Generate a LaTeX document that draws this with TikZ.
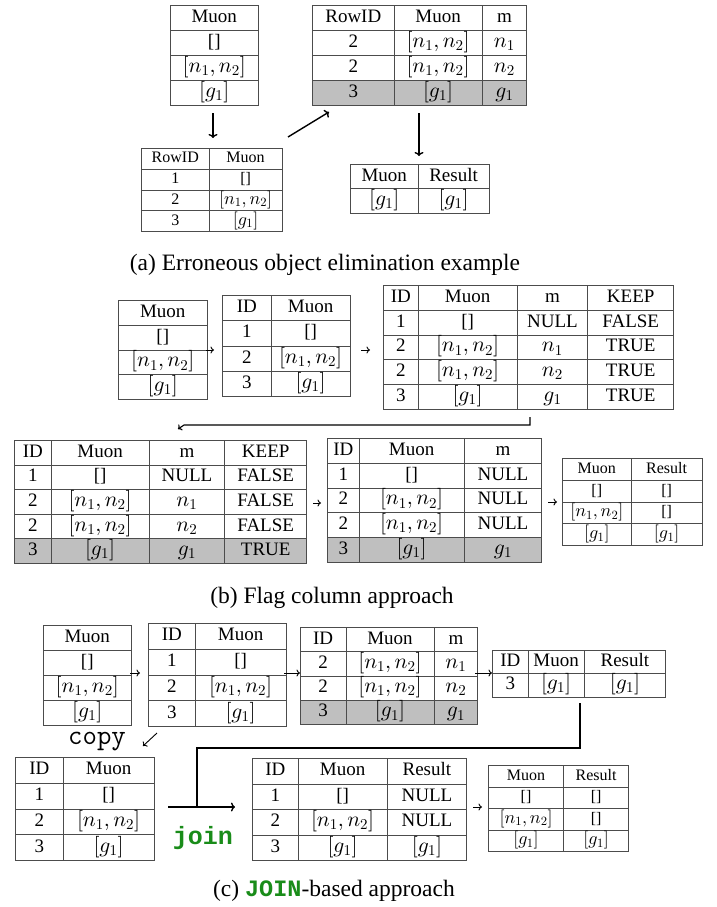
\documentclass[tikz,border=0pt]{standalone}
\usepackage[no-math]{fontspec}
\setmainfont{Liberation Serif}
\newfontfamily\boldmono{Liberation Mono}
\DeclareFontShape{OML}{cmm}{m}{it}{<->cmmi10}{}
\DeclareFontShape{OT1}{cmr}{m}{n}{<-8.5>cmr7 <8.5->cmr10}{}
\DeclareMathSizes{19}{21.5}{15}{11}
\DeclareMathSizes{16}{18}{12.6}{9}
\usetikzlibrary{matrix,arrows.meta,calc}
\definecolor{tline}{gray}{0.3}
\definecolor{cellgray}{gray}{0.75}
\definecolor{joingreen}{rgb}{0.1,0.55,0.1}
\newcommand\tabfont{\fontsize{19}{22}\selectfont}
\newcommand\smallfont{\fontsize{16}{19}\selectfont}
\newcommand\capfont{\fontsize{23.5}{28}\selectfont}
\tikzset{
  tbl/.style={matrix of nodes, anchor=north west, inner sep=0pt, outer sep=0pt,
    row sep=-0.8pt, column sep=-0.8pt,
    nodes={draw=tline, line width=0.8pt, inner sep=0pt, outer sep=0pt, anchor=center,
      font=\tabfont, text height=14pt, text depth=5pt}},
  smalltbl/.style={tbl, nodes={font=\smallfont, text height=12pt, text depth=4.2pt}},
  rowh/.style={nodes={minimum height=#1}},
  colw/.style 2 args={column #1/.style={nodes={minimum width=#2}}},
  grayrow/.style={row #1/.style={nodes={fill=cellgray}}},
  bigarr/.style={line width=1.4pt, -{To[length=4pt,width=9pt]}},
  smallarr/.style={line width=0.9pt, -{To[length=3.5pt,width=7pt]}},
  connline/.style={line width=1.4pt},
  lbl/.style={inner sep=0pt},
}
\begin{document}
\begin{tikzpicture}[x=1pt,y=-1pt]
\fill[white] (0,0) rectangle (716,907);
\useasboundingbox (0,0) rectangle (716,907);

% ---------------- (a)
\matrix (A1) [tbl, rowh=25.05pt, colw={1}{87.8pt}] at (170,5)
{Muon\\ {[]}\\ $[n_1,n_2]$\\ $[g_1]$\\};
\matrix (A2) [tbl, rowh=25.05pt, colw={1}{81.8pt}, colw={2}{87.8pt}, colw={3}{44.8pt}, grayrow=4] at (312,5)
{RowID & Muon & m\\
 2 & $[n_1,n_2]$ & $n_1$\\
 2 & $[n_1,n_2]$ & $n_2$\\
 3 & $[g_1]$ & $g_1$\\};
\matrix (A3) [smalltbl, rowh=20.8pt, colw={1}{67.8pt}, colw={2}{72.8pt}] at (141,148)
{RowID & Muon\\
 1 & {[]}\\
 2 & $[n_1,n_2]$\\
 3 & $[g_1]$\\};
\matrix (A4) [tbl, rowh=24.3pt, colw={1}{67.8pt}, colw={2}{70.8pt}] at (350,164)
{Muon & Result\\
 $[g_1]$ & $[g_1]$\\};

\coordinate (a1s) at (213,113); \coordinate (a3n) at (213,138);
\draw[bigarr] (a1s) -- (a3n);
\coordinate (a3e) at (288,137); \coordinate (a2w) at (329,112);
\draw[bigarr] (a3e) -- (a2w);
\coordinate (a2s) at (419,113); \coordinate (a4n) at (419,156);
\draw[bigarr] (a2s) -- (a4n);

\node (capA) [lbl, font=\capfont] at (325,265) {(a) Erroneous object elimination example};

% ---------------- (b)
\matrix (B1) [tbl, rowh=24.8pt, colw={1}{88.8pt}] at (118,300)
{Muon\\ {[]}\\ $[n_1,n_2]$\\ $[g_1]$\\};
\matrix (B2) [tbl, rowh=25.3pt, colw={1}{48.8pt}, colw={2}{78.8pt}] at (222,295)
{ID & Muon\\
 1 & {[]}\\
 2 & $[n_1,n_2]$\\
 3 & $[g_1]$\\};
\matrix (B3) [tbl, rowh=24.8pt, colw={1}{34.8pt}, colw={2}{98.8pt}, colw={3}{70.8pt}, colw={4}{85.8pt}] at (383,285)
{ID & Muon & m & KEEP\\
 1 & {[]} & NULL & FALSE\\
 2 & $[n_1,n_2]$ & $n_1$ & TRUE\\
 2 & $[n_1,n_2]$ & $n_2$ & TRUE\\
 3 & $[g_1]$ & $g_1$ & TRUE\\};
\matrix (B4) [tbl, rowh=24.6pt, colw={1}{36.8pt}, colw={2}{97.8pt}, colw={3}{75.8pt}, colw={4}{81.8pt}, grayrow=5] at (14,440)
{ID & Muon & m & KEEP\\
 1 & {[]} & NULL & FALSE\\
 2 & $[n_1,n_2]$ & $n_1$ & FALSE\\
 2 & $[n_1,n_2]$ & $n_2$ & FALSE\\
 3 & $[g_1]$ & $g_1$ & TRUE\\};
\matrix (B5) [tbl, rowh=24.8pt, colw={1}{31.8pt}, colw={2}{104.8pt}, colw={3}{77.8pt}, grayrow=5] at (327,438)
{ID & Muon & m\\
 1 & {[]} & NULL\\
 2 & $[n_1,n_2]$ & NULL\\
 2 & $[n_1,n_2]$ & NULL\\
 3 & $[g_1]$ & $g_1$\\};
\matrix (B6) [smalltbl, rowh=21.8pt, colw={1}{68.8pt}, colw={2}{70.8pt}] at (562,458)
{Muon & Result\\
 {[]} & {[]}\\
 $[n_1,n_2]$ & {[]}\\
 $[g_1]$ & $[g_1]$\\};

\coordinate (b1e) at (206,350); \coordinate (b2w) at (214,350);
\draw[smallarr] (b1e) -- (b2w);
\coordinate (b2e) at (361,350); \coordinate (b3w) at (370,350);
\draw[smallarr] (b2e) -- (b3w);
\coordinate (b3s) at (530,417); \coordinate (b34a) at (530,425);
\coordinate (b34b) at (184,425); \coordinate (b4n) at (178,429);
\draw[line width=1.1pt, -{To[length=3.5pt,width=7pt]}] (b3s) -- (b34a) -- (b34b) -- (b4n);
\coordinate (b4e) at (313,503); \coordinate (b5w) at (321,503);
\draw[smallarr] (b4e) -- (b5w);
\coordinate (b5e) at (548,502); \coordinate (b6w) at (557,502);
\draw[smallarr] (b5e) -- (b6w);

\node (capB) [lbl, font=\capfont] at (332,598) {(b) Flag column approach};

% ---------------- (c)
\matrix (C1) [tbl, rowh=25.05pt, colw={1}{87.8pt}] at (43,625)
{Muon\\ {[]}\\ $[n_1,n_2]$\\ $[g_1]$\\};
\matrix (C2) [tbl, rowh=25.8pt, colw={1}{46.8pt}, colw={2}{90.8pt}] at (148,623)
{ID & Muon\\
 1 & {[]}\\
 2 & $[n_1,n_2]$\\
 3 & $[g_1]$\\};
\matrix (C3) [tbl, rowh=24.3pt, colw={1}{45.5pt}, colw={2}{88.1pt}, colw={3}{43.8pt}, grayrow=4] at (300,627)
{ID & Muon & m\\
 2 & $[n_1,n_2]$ & $n_1$\\
 2 & $[n_1,n_2]$ & $n_2$\\
 3 & $[g_1]$ & $g_1$\\};
\matrix (C4) [tbl, rowh=23.3pt, colw={1}{35.8pt}, colw={2}{55.8pt}, colw={3}{81.8pt}] at (492,650)
{ID & Muon & Result\\
 3 & $[g_1]$ & $[g_1]$\\};
\matrix (C5) [tbl, rowh=25.8pt, colw={1}{47.8pt}, colw={2}{90.8pt}] at (15,757)
{ID & Muon\\
 1 & {[]}\\
 2 & $[n_1,n_2]$\\
 3 & $[g_1]$\\};
\matrix (C6) [tbl, rowh=25.55pt, colw={1}{45.8pt}, colw={2}{88.8pt}, colw={3}{79.8pt}] at (252,758)
{ID & Muon & Result\\
 1 & {[]} & NULL\\
 2 & $[n_1,n_2]$ & NULL\\
 3 & $[g_1]$ & $[g_1]$\\};
\matrix (C7) [smalltbl, rowh=21.55pt, colw={1}{75.3pt}, colw={2}{64.8pt}] at (488,765)
{Muon & Result\\
 {[]} & {[]}\\
 $[n_1,n_2]$ & {[]}\\
 $[g_1]$ & $[g_1]$\\};

\coordinate (c1e) at (130,673); \coordinate (c2w) at (140,673);
\draw[smallarr] (c1e) -- (c2w);
\coordinate (c2e) at (284,673); \coordinate (c3w) at (300,673);
\draw[smallarr] (c2e) -- (c3w);
\coordinate (c3e) at (475,673); \coordinate (c4w) at (492,673);
\draw[smallarr] (c3e) -- (c4w);
\node (copytxt) [lbl, font=\fontsize{28}{30}\ttfamily] at (97,742) {copy};
\coordinate (cpa) at (157,733); \coordinate (cpb) at (143,746);
\draw[smallarr] (cpa) -- (cpb);
\coordinate (c4s) at (580,703); \coordinate (jcorner) at (197,748);
\coordinate (jjoin) at (197,807);
\draw[connline] (c4s) |- (jcorner) -- (jjoin);
\coordinate (js) at (168,807); \coordinate (je) at (235,807);
\draw[bigarr] (js) -- (je);
\node (jointxt) [lbl, font=\fontsize{25}{28}\boldmono\bfseries, text=joingreen] at (203,838) {join};
\coordinate (c6e) at (473,807); \coordinate (c7w) at (482,807);
\draw[smallarr] (c6e) -- (c7w);

\node (capC) [lbl, font=\capfont] at (334,891) {(c) {\boldmono\bfseries\color{joingreen}JOIN}-based approach};
\end{tikzpicture}
\end{document}
